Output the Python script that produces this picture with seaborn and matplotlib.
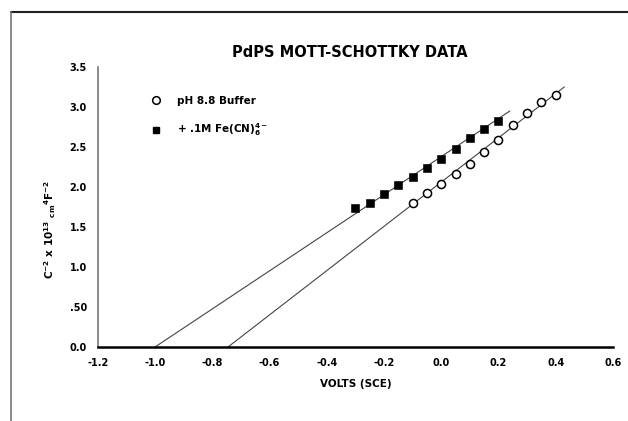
import numpy as np
import pandas as pd
import matplotlib
matplotlib.use("Agg")
import matplotlib.pyplot as plt
import seaborn as sns
from matplotlib.lines import Line2D

# measured points (volts vs SCE, C^-2 x 10^13)
buffer_v = [-0.10, -0.05, 0.00, 0.05, 0.10, 0.15, 0.20, 0.25, 0.30, 0.35, 0.40]
buffer_c = [1.80, 1.92, 2.04, 2.16, 2.29, 2.44, 2.59, 2.77, 2.93, 3.06, 3.15]
fecn_v = [-0.30, -0.25, -0.20, -0.15, -0.10, -0.05, 0.00, 0.05, 0.10, 0.15, 0.20]
fecn_c = [1.74, 1.80, 1.91, 2.02, 2.13, 2.24, 2.35, 2.48, 2.61, 2.73, 2.82]

# fitted lines extrapolated to the flat-band potential
fit_buffer_v = [-0.745, 0.43]
fit_buffer_c = [0.0, 3.25]
fit_fecn_v = [-1.0, 0.24]
fit_fecn_c = [0.0, 2.95]

xticks = [-1.2, -1.0, -0.8, -0.6, -0.4, -0.2, 0.0, 0.2, 0.4, 0.6]
xlabels = ["-1.2", "-1.0", "-0.8", "-0.6", "-0.4", "-0.2", "0.0", "0.2", "0.4", "0.6"]
yticks = [0.0, 0.5, 1.0, 1.5, 2.0, 2.5, 3.0, 3.5]
ylabels = ["0.0", ".50", "1.0", "1.5", "2.0", "2.5", "3.0", "3.5"]

sns.set_style("white")
plt.rcParams['font.family'] = ['DejaVu Sans']
plt.rcParams['font.weight'] = 'bold'
plt.rcParams['text.color'] = 'black'
plt.rcParams['axes.labelcolor'] = 'black'
plt.rcParams['axes.titlecolor'] = 'black'

fig = plt.figure(figsize=(6.28, 4.21), dpi=100)
ax = fig.add_axes([0.156, 0.176, 0.82, 0.665])

sns.lineplot(x=fit_buffer_v, y=fit_buffer_c, ax=ax, color='#444444', linewidth=0.8)
sns.lineplot(x=fit_fecn_v, y=fit_fecn_c, ax=ax, color='#444444', linewidth=0.8)

df_b = pd.DataFrame({'v': buffer_v, 'c': buffer_c})
df_f = pd.DataFrame({'v': fecn_v, 'c': fecn_c})
sns.scatterplot(data=df_b, x='v', y='c', ax=ax, marker='o', s=34,
                facecolor='white', edgecolor='black', linewidth=1.1, zorder=3)
sns.scatterplot(data=df_f, x='v', y='c', ax=ax, marker='s', s=28,
                color='black', edgecolor='black', zorder=3)

ax.set_xlim(-1.2, 0.6)
ax.set_ylim(0, 3.5)
ax.set_xticks(xticks)
ax.set_xticklabels(xlabels)
ax.set_yticks(yticks)
ax.set_yticklabels(ylabels)
ax.tick_params(direction='in', length=3, width=1.2, labelsize=7, pad=8, colors='black')

for s in ['top', 'right']:
    ax.spines[s].set_visible(False)
ax.spines['bottom'].set_linewidth(1.8)
ax.spines['bottom'].set_color('black')
ax.spines['left'].set_linewidth(1.2)
ax.spines['left'].set_color('#777777')

ax.set_title("PdPS MOTT-SCHOTTKY DATA", fontsize=10.5, fontweight='bold', pad=7, x=0.49)
ax.set_xlabel("VOLTS (SCE)", fontsize=7.5, fontweight='bold', labelpad=8)
ax.set_ylabel(r"C$^{-2}$ x 10$^{13}$ $_{\rm cm}$$^4$F$^{-2}$", fontsize=7.5, fontweight='bold')
ax.yaxis.set_label_coords(-0.078, 0.42)

handles = [
    Line2D([], [], marker='o', linestyle='none', markersize=5.5, markerfacecolor='white',
           markeredgecolor='black', markeredgewidth=1.1),
    Line2D([], [], marker='s', linestyle='none', markersize=5, color='black'),
]
ax.legend(handles, ["pH 8.8 Buffer", r"+ .1M Fe(CN)$_6^{4-}$"], loc='upper left',
          bbox_to_anchor=(0.085, 0.93), frameon=False, fontsize=7.5,
          labelspacing=1.5, handletextpad=1.5, handlelength=1)

# scanned page border
fig.add_artist(Line2D([11 / 628, 1.0], [1 - 12 / 421, 1 - 12 / 421],
                      transform=fig.transFigure, color='#222222', linewidth=1.5))
fig.add_artist(Line2D([11 / 628, 11 / 628], [0, 1 - 12 / 421],
                      transform=fig.transFigure, color='#777777', linewidth=1.2))

fig.savefig("out.png", dpi=100)
